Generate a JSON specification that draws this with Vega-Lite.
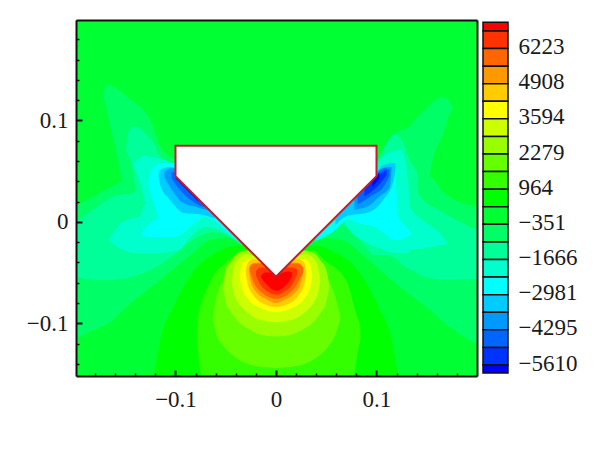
{"$schema":"https://vega.github.io/schema/vega-lite/v6.json","background":"white","padding":{"left":0,"top":20,"right":0,"bottom":0},"spacing":5,"config":{"view":{"stroke":null},"font":"Liberation Serif"},
"datasets":{"regions":[
{"g":"bg","c":11,"x":-0.2,"y":0.2,"y2":-0.155},{"g":"bg","c":11,"x":0.2,"y":0.2,"y2":-0.155},
{"g":"La","c":12,"x":-0.172,"y":0.127,"y2":0.125},{"g":"La","c":12,"x":-0.168,"y":0.135,"y2":0.108},{"g":"La","c":12,"x":-0.16,"y":0.132,"y2":0.073},{"g":"La","c":12,"x":-0.155,"y":0.129,"y2":0.049},{"g":"La","c":12,"x":-0.148,"y":0.123,"y2":-0.008},{"g":"La","c":12,"x":-0.125,"y":0.1,"y2":-0.008},{"g":"La","c":12,"x":-0.115,"y":0.074,"y2":-0.008},{"g":"La","c":12,"x":-0.1,"y":0.061,"y2":-0.008},{"g":"La","c":12,"x":-0.086,"y":0.046,"y2":-0.008},
{"g":"Lb","c":12,"x":-0.2,"y":0.015,"y2":-0.116},{"g":"Lb","c":12,"x":-0.182,"y":0.025,"y2":-0.107},{"g":"Lb","c":12,"x":-0.165,"y":0.034,"y2":-0.099},{"g":"Lb","c":12,"x":-0.157,"y":0.038,"y2":-0.092},{"g":"Lb","c":12,"x":-0.152,"y":0.04,"y2":-0.087},{"g":"Lb","c":12,"x":-0.115,"y":0.04,"y2":-0.057},{"g":"Lb","c":12,"x":-0.083,"y":0.032,"y2":-0.031},{"g":"Lb","c":12,"x":-0.066,"y":0.017,"y2":-0.018},{"g":"Lb","c":12,"x":-0.048,"y":-0.003,"y2":-0.016},{"g":"Lb","c":12,"x":-0.032,"y":-0.018,"y2":-0.025},
{"g":"Ra","c":12,"x":0.099,"y":0.056,"y2":-0.008},{"g":"Ra","c":12,"x":0.108,"y":0.069,"y2":-0.008},{"g":"Ra","c":12,"x":0.115,"y":0.085,"y2":-0.008},{"g":"Ra","c":12,"x":0.123,"y":0.09,"y2":-0.008},{"g":"Ra","c":12,"x":0.133,"y":0.094,"y2":-0.008},{"g":"Ra","c":12,"x":0.14,"y":0.103,"y2":-0.008},{"g":"Ra","c":12,"x":0.153,"y":0.115,"y2":0.046},{"g":"Ra","c":12,"x":0.156,"y":0.118,"y2":0.061},{"g":"Ra","c":12,"x":0.166,"y":0.123,"y2":0.086},{"g":"Ra","c":12,"x":0.173,"y":0.118,"y2":0.107},{"g":"Ra","c":12,"x":0.176,"y":0.113,"y2":0.112},
{"g":"Rb","c":12,"x":0.032,"y":-0.018,"y2":-0.025},{"g":"Rb","c":12,"x":0.048,"y":-0.004,"y2":-0.016},{"g":"Rb","c":12,"x":0.066,"y":0.017,"y2":-0.018},{"g":"Rb","c":12,"x":0.084,"y":0.032,"y2":-0.031},{"g":"Rb","c":12,"x":0.118,"y":0.039,"y2":-0.06},{"g":"Rb","c":12,"x":0.153,"y":0.044,"y2":-0.087},{"g":"Rb","c":12,"x":0.167,"y":0.029,"y2":-0.099},{"g":"Rb","c":12,"x":0.2,"y":0.015,"y2":-0.121},
{"g":"Lc","c":13,"x":-0.149,"y":0.071,"y2":0.069},{"g":"Lc","c":13,"x":-0.147,"y":0.088,"y2":0.066},{"g":"Lc","c":13,"x":-0.143,"y":0.093,"y2":0.053},{"g":"Lc","c":13,"x":-0.138,"y":0.094,"y2":0.027},{"g":"Lc","c":13,"x":-0.13,"y":0.087,"y2":0.027},{"g":"Lc","c":13,"x":-0.122,"y":0.078,"y2":0.022},{"g":"Lc","c":13,"x":-0.115,"y":0.064,"y2":0.022},{"g":"Lc","c":13,"x":-0.105,"y":0.053,"y2":0.022},{"g":"Lc","c":13,"x":-0.098,"y":0.046,"y2":0.022},
{"g":"Ld","c":13,"x":-0.2,"y":-0.001,"y2":-0.054},{"g":"Ld","c":13,"x":-0.182,"y":0.012,"y2":-0.057},{"g":"Ld","c":13,"x":-0.162,"y":0.025,"y2":-0.057},{"g":"Ld","c":13,"x":-0.142,"y":0.029,"y2":-0.054},{"g":"Ld","c":13,"x":-0.128,"y":0.038,"y2":-0.049},{"g":"Ld","c":13,"x":-0.099,"y":0.043,"y2":-0.031},{"g":"Ld","c":13,"x":-0.083,"y":0.036,"y2":-0.018},{"g":"Ld","c":13,"x":-0.061,"y":0.01,"y2":-0.01},{"g":"Ld","c":13,"x":-0.034,"y":-0.016,"y2":-0.023},
{"g":"Le2","c":14,"x":-0.142,"y":0.058,"y2":0.056},{"g":"Le2","c":14,"x":-0.136,"y":0.063,"y2":0.041},{"g":"Le2","c":14,"x":-0.131,"y":0.065,"y2":0.022},{"g":"Le2","c":14,"x":-0.125,"y":0.064,"y2":-0.008},{"g":"Le2","c":14,"x":-0.11,"y":0.061,"y2":-0.008},{"g":"Le2","c":14,"x":-0.1,"y":0.056,"y2":-0.008},{"g":"Le2","c":14,"x":-0.091,"y":0.046,"y2":-0.008},
{"g":"Le","c":14,"x":-0.167,"y":-0.018,"y2":-0.018},{"g":"Le","c":14,"x":-0.156,"y":-0.003,"y2":-0.026},{"g":"Le","c":14,"x":-0.145,"y":0.003,"y2":-0.03},{"g":"Le","c":14,"x":-0.136,"y":0.005,"y2":-0.031},{"g":"Le","c":14,"x":-0.131,"y":0.017,"y2":-0.031},{"g":"Le","c":14,"x":-0.119,"y":0.022,"y2":-0.031},{"g":"Le","c":14,"x":-0.097,"y":0.032,"y2":-0.028},{"g":"Le","c":14,"x":-0.085,"y":0.027,"y2":-0.015},{"g":"Le","c":14,"x":-0.07,"y":0.012,"y2":-0.005},{"g":"Le","c":14,"x":-0.051,"y":0,"y2":-0.011},{"g":"Le","c":14,"x":-0.036,"y":-0.013,"y2":-0.021},
{"g":"Lf2","c":15,"x":-0.127,"y":0.041,"y2":0.036},{"g":"Lf2","c":15,"x":-0.124,"y":0.051,"y2":0.025},{"g":"Lf2","c":15,"x":-0.121,"y":0.054,"y2":0.017},{"g":"Lf2","c":15,"x":-0.117,"y":0.057,"y2":0.005},{"g":"Lf2","c":15,"x":-0.112,"y":0.058,"y2":-0.003},{"g":"Lf2","c":15,"x":-0.1,"y":0.058,"y2":-0.003},
{"g":"Lf","c":15,"x":-0.134,"y":-0.011,"y2":-0.013},{"g":"Lf","c":15,"x":-0.125,"y":-0.001,"y2":-0.015},{"g":"Lf","c":15,"x":-0.117,"y":0.005,"y2":-0.015},{"g":"Lf","c":15,"x":-0.112,"y":0.017,"y2":-0.015},{"g":"Lf","c":15,"x":-0.1,"y":0.053,"y2":-0.015},{"g":"Lf","c":15,"x":-0.08,"y":0.032,"y2":-0.001},{"g":"Lf","c":15,"x":-0.07,"y":0.017,"y2":0.005},{"g":"Lf","c":15,"x":-0.059,"y":0.01,"y2":-0.001},{"g":"Lf","c":15,"x":-0.046,"y":-0.004,"y2":-0.012},{"g":"Lf","c":15,"x":-0.038,"y":-0.015,"y2":-0.019},
{"g":"Lg","c":16,"x":-0.117,"y":0.047,"y2":0.045},{"g":"Lg","c":16,"x":-0.115,"y":0.051,"y2":0.036},{"g":"Lg","c":16,"x":-0.106,"y":0.054,"y2":0.022},{"g":"Lg","c":16,"x":-0.1,"y":0.053,"y2":0.015},{"g":"Lg","c":16,"x":-0.093,"y":0.046,"y2":0.009},{"g":"Lg","c":16,"x":-0.073,"y":0.022,"y2":0.007},{"g":"Lg","c":16,"x":-0.061,"y":0.01,"y2":0.003},
{"g":"Lh","c":17,"x":-0.111,"y":0.049,"y2":0.044},{"g":"Lh","c":17,"x":-0.104,"y":0.053,"y2":0.032},{"g":"Lh","c":17,"x":-0.093,"y":0.046,"y2":0.019},{"g":"Lh","c":17,"x":-0.077,"y":0.027,"y2":0.014},{"g":"Lh","c":17,"x":-0.066,"y":0.016,"y2":0.011},
{"g":"Li","c":18,"x":-0.104,"y":0.049,"y2":0.043},{"g":"Li","c":18,"x":-0.097,"y":0.049,"y2":0.033},{"g":"Li","c":18,"x":-0.083,"y":0.032,"y2":0.02},{"g":"Li","c":18,"x":-0.071,"y":0.02,"y2":0.014},
{"g":"Lj","c":19,"x":-0.1,"y":0.049,"y2":0.043},{"g":"Lj","c":19,"x":-0.09,"y":0.039,"y2":0.033},{"g":"Lj","c":19,"x":-0.077,"y":0.027,"y2":0.019},
{"g":"Lk","c":20,"x":-0.099,"y":0.046,"y2":0.042},{"g":"Lk","c":20,"x":-0.086,"y":0.036,"y2":0.029},{"g":"Lk","c":20,"x":-0.076,"y":0.027,"y2":0.02},
{"g":"Rc","c":13,"x":0.061,"y":0.007,"y2":0.002},{"g":"Rc","c":13,"x":0.083,"y":0.027,"y2":-0.018},{"g":"Rc","c":13,"x":0.099,"y":0.056,"y2":-0.033},{"g":"Rc","c":13,"x":0.108,"y":0.074,"y2":-0.033},{"g":"Rc","c":13,"x":0.117,"y":0.086,"y2":-0.035},{"g":"Rc","c":13,"x":0.125,"y":0.081,"y2":-0.042},{"g":"Rc","c":13,"x":0.133,"y":0.061,"y2":-0.047},{"g":"Rc","c":13,"x":0.14,"y":0.048,"y2":-0.05},{"g":"Rc","c":13,"x":0.142,"y":0.027,"y2":-0.052},{"g":"Rc","c":13,"x":0.167,"y":0.009,"y2":-0.057},{"g":"Rc","c":13,"x":0.2,"y":-0.008,"y2":-0.056},
{"g":"Rd","c":14,"x":0.064,"y":0.01,"y2":0.007},{"g":"Rd","c":14,"x":0.071,"y":0.017,"y2":-0.005},{"g":"Rd","c":14,"x":0.091,"y":0.036,"y2":-0.021},{"g":"Rd","c":14,"x":0.103,"y":0.061,"y2":-0.026},{"g":"Rd","c":14,"x":0.113,"y":0.068,"y2":-0.03},{"g":"Rd","c":14,"x":0.125,"y":0.071,"y2":-0.031},{"g":"Rd","c":14,"x":0.13,"y":0.051,"y2":-0.031},{"g":"Rd","c":14,"x":0.132,"y":0.034,"y2":-0.03},{"g":"Rd","c":14,"x":0.133,"y":0.015,"y2":-0.028},{"g":"Rd","c":14,"x":0.148,"y":0,"y2":-0.026},{"g":"Rd","c":14,"x":0.163,"y":-0.011,"y2":-0.023},{"g":"Rd","c":14,"x":0.17,"y":-0.02,"y2":-0.022},
{"g":"Re","c":15,"x":0.04,"y":-0.016,"y2":-0.019},{"g":"Re","c":15,"x":0.046,"y":-0.01,"y2":-0.016},{"g":"Re","c":15,"x":0.059,"y":0.002,"y2":-0.008},{"g":"Re","c":15,"x":0.071,"y":0.017,"y2":0.002},{"g":"Re","c":15,"x":0.084,"y":0.032,"y2":-0.002},{"g":"Re","c":15,"x":0.098,"y":0.051,"y2":-0.005},{"g":"Re","c":15,"x":0.11,"y":0.056,"y2":-0.013},{"g":"Re","c":15,"x":0.117,"y":0.057,"y2":-0.018},{"g":"Re","c":15,"x":0.119,"y":0.041,"y2":-0.018},{"g":"Re","c":15,"x":0.122,"y":0.005,"y2":-0.018},{"g":"Re","c":15,"x":0.128,"y":-0.003,"y2":-0.016},{"g":"Re","c":15,"x":0.135,"y":-0.011,"y2":-0.013},
{"g":"Rf","c":16,"x":0.059,"y":0.002,"y2":-0.003},{"g":"Rf","c":16,"x":0.071,"y":0.017,"y2":0.006},{"g":"Rf","c":16,"x":0.091,"y":0.036,"y2":0.009},{"g":"Rf","c":16,"x":0.107,"y":0.056,"y2":0.022},{"g":"Rf","c":16,"x":0.117,"y":0.058,"y2":0.041},{"g":"Rf","c":16,"x":0.119,"y":0.057,"y2":0.053},
{"g":"Rg","c":17,"x":0.078,"y":0.022,"y2":0.012},{"g":"Rg","c":17,"x":0.091,"y":0.036,"y2":0.015},{"g":"Rg","c":17,"x":0.103,"y":0.051,"y2":0.025},{"g":"Rg","c":17,"x":0.113,"y":0.054,"y2":0.034},{"g":"Rg","c":17,"x":0.115,"y":0.054,"y2":0.051},
{"g":"Rh","c":18,"x":0.081,"y":0.025,"y2":0.017},{"g":"Rh","c":18,"x":0.094,"y":0.038,"y2":0.025},{"g":"Rh","c":18,"x":0.108,"y":0.053,"y2":0.036},{"g":"Rh","c":18,"x":0.113,"y":0.051,"y2":0.046},
{"g":"Ri","c":19,"x":0.088,"y":0.032,"y2":0.025},{"g":"Ri","c":19,"x":0.1,"y":0.044,"y2":0.034},{"g":"Ri","c":19,"x":0.11,"y":0.051,"y2":0.046},
{"g":"Rj","c":20,"x":0.096,"y":0.039,"y2":0.034},{"g":"Rj","c":20,"x":0.103,"y":0.049,"y2":0.043},
{"g":"m10","c":10,"x":-0.122,"y":-0.155,"y2":-0.155},{"g":"m10","c":10,"x":-0.115,"y":-0.116,"y2":-0.155},{"g":"m10","c":10,"x":-0.102,"y":-0.084,"y2":-0.155},{"g":"m10","c":10,"x":-0.083,"y":-0.05,"y2":-0.155},{"g":"m10","c":10,"x":-0.059,"y":-0.03,"y2":-0.155},{"g":"m10","c":10,"x":-0.044,"y":-0.024,"y2":-0.155},{"g":"m10","c":10,"x":-0.031,"y":-0.023,"y2":-0.155},{"g":"m10","c":10,"x":0,"y":-0.037,"y2":-0.155},{"g":"m10","c":10,"x":0.031,"y":-0.023,"y2":-0.155},{"g":"m10","c":10,"x":0.044,"y":-0.024,"y2":-0.155},{"g":"m10","c":10,"x":0.059,"y":-0.03,"y2":-0.155},{"g":"m10","c":10,"x":0.083,"y":-0.05,"y2":-0.155},{"g":"m10","c":10,"x":0.102,"y":-0.084,"y2":-0.155},{"g":"m10","c":10,"x":0.115,"y":-0.116,"y2":-0.155},{"g":"m10","c":10,"x":0.122,"y":-0.155,"y2":-0.155},
{"g":"m9","c":9,"x":-0.079,"y":-0.109,"y2":-0.116},{"g":"m9","c":9,"x":-0.078,"y":-0.097,"y2":-0.125},{"g":"m9","c":9,"x":-0.073,"y":-0.077,"y2":-0.155},{"g":"m9","c":9,"x":-0.066,"y":-0.06,"y2":-0.155},{"g":"m9","c":9,"x":-0.046,"y":-0.037,"y2":-0.155},{"g":"m9","c":9,"x":-0.033,"y":-0.028,"y2":-0.155},{"g":"m9","c":9,"x":0,"y":-0.037,"y2":-0.155},{"g":"m9","c":9,"x":0.037,"y":-0.028,"y2":-0.155},{"g":"m9","c":9,"x":0.047,"y":-0.037,"y2":-0.155},{"g":"m9","c":9,"x":0.071,"y":-0.06,"y2":-0.155},{"g":"m9","c":9,"x":0.076,"y":-0.077,"y2":-0.155},{"g":"m9","c":9,"x":0.082,"y":-0.097,"y2":-0.125},{"g":"m9","c":9,"x":0.084,"y":-0.103,"y2":-0.116},
{"g":"m8","c":8,"x":-0.063,"y":-0.094,"y2":-0.096},{"g":"m8","c":8,"x":-0.06,"y":-0.077,"y2":-0.109},{"g":"m8","c":8,"x":-0.052,"y":-0.057,"y2":-0.123},{"g":"m8","c":8,"x":-0.044,"y":-0.042,"y2":-0.131},{"g":"m8","c":8,"x":-0.031,"y":-0.03,"y2":-0.139},{"g":"m8","c":8,"x":-0.016,"y":-0.028,"y2":-0.143},{"g":"m8","c":8,"x":0,"y":-0.033,"y2":-0.144},{"g":"m8","c":8,"x":0.016,"y":-0.028,"y2":-0.143},{"g":"m8","c":8,"x":0.031,"y":-0.03,"y2":-0.139},{"g":"m8","c":8,"x":0.044,"y":-0.042,"y2":-0.131},{"g":"m8","c":8,"x":0.052,"y":-0.057,"y2":-0.123},{"g":"m8","c":8,"x":0.06,"y":-0.077,"y2":-0.109},{"g":"m8","c":8,"x":0.064,"y":-0.094,"y2":-0.096},
{"g":"m7","c":7,"x":-0.053,"y":-0.062,"y2":-0.064},{"g":"m7","c":7,"x":-0.05,"y":-0.047,"y2":-0.079},{"g":"m7","c":7,"x":-0.045,"y":-0.039,"y2":-0.089},{"g":"m7","c":7,"x":-0.038,"y":-0.031,"y2":-0.098},{"g":"m7","c":7,"x":-0.025,"y":-0.028,"y2":-0.107},{"g":"m7","c":7,"x":-0.012,"y":-0.028,"y2":-0.112},{"g":"m7","c":7,"x":0,"y":-0.035,"y2":-0.113},{"g":"m7","c":7,"x":0.012,"y":-0.028,"y2":-0.112},{"g":"m7","c":7,"x":0.025,"y":-0.028,"y2":-0.107},{"g":"m7","c":7,"x":0.038,"y":-0.031,"y2":-0.098},{"g":"m7","c":7,"x":0.045,"y":-0.039,"y2":-0.089},{"g":"m7","c":7,"x":0.05,"y":-0.047,"y2":-0.079},{"g":"m7","c":7,"x":0.053,"y":-0.062,"y2":-0.064},
{"g":"m6","c":6,"x":-0.044,"y":-0.056,"y2":-0.059},{"g":"m6","c":6,"x":-0.042,"y":-0.045,"y2":-0.07},{"g":"m6","c":6,"x":-0.038,"y":-0.037,"y2":-0.079},{"g":"m6","c":6,"x":-0.03,"y":-0.032,"y2":-0.088},{"g":"m6","c":6,"x":-0.018,"y":-0.035,"y2":-0.096},{"g":"m6","c":6,"x":0,"y":-0.04,"y2":-0.099},{"g":"m6","c":6,"x":0.018,"y":-0.035,"y2":-0.096},{"g":"m6","c":6,"x":0.03,"y":-0.032,"y2":-0.088},{"g":"m6","c":6,"x":0.038,"y":-0.037,"y2":-0.079},{"g":"m6","c":6,"x":0.042,"y":-0.045,"y2":-0.07},{"g":"m6","c":6,"x":0.044,"y":-0.056,"y2":-0.059},
{"g":"m5","c":5,"x":-0.036,"y":-0.053,"y2":-0.055},{"g":"m5","c":5,"x":-0.034,"y":-0.042,"y2":-0.065},{"g":"m5","c":5,"x":-0.028,"y":-0.037,"y2":-0.076},{"g":"m5","c":5,"x":-0.018,"y":-0.039,"y2":-0.084},{"g":"m5","c":5,"x":0,"y":-0.043,"y2":-0.089},{"g":"m5","c":5,"x":0.018,"y":-0.039,"y2":-0.084},{"g":"m5","c":5,"x":0.028,"y":-0.037,"y2":-0.076},{"g":"m5","c":5,"x":0.034,"y":-0.042,"y2":-0.065},{"g":"m5","c":5,"x":0.036,"y":-0.053,"y2":-0.055},
{"g":"m4","c":4,"x":-0.03,"y":-0.049,"y2":-0.052},{"g":"m4","c":4,"x":-0.028,"y":-0.04,"y2":-0.062},{"g":"m4","c":4,"x":-0.022,"y":-0.037,"y2":-0.073},{"g":"m4","c":4,"x":-0.012,"y":-0.04,"y2":-0.081},{"g":"m4","c":4,"x":0,"y":-0.046,"y2":-0.084},{"g":"m4","c":4,"x":0.012,"y":-0.04,"y2":-0.081},{"g":"m4","c":4,"x":0.022,"y":-0.037,"y2":-0.073},{"g":"m4","c":4,"x":0.028,"y":-0.04,"y2":-0.062},{"g":"m4","c":4,"x":0.03,"y":-0.049,"y2":-0.052},
{"g":"m3","c":3,"x":-0.027,"y":-0.046,"y2":-0.05},{"g":"m3","c":3,"x":-0.025,"y":-0.042,"y2":-0.059},{"g":"m3","c":3,"x":-0.018,"y":-0.04,"y2":-0.071},{"g":"m3","c":3,"x":-0.01,"y":-0.043,"y2":-0.076},{"g":"m3","c":3,"x":0,"y":-0.047,"y2":-0.08},{"g":"m3","c":3,"x":0.01,"y":-0.043,"y2":-0.076},{"g":"m3","c":3,"x":0.018,"y":-0.04,"y2":-0.071},{"g":"m3","c":3,"x":0.025,"y":-0.042,"y2":-0.059},{"g":"m3","c":3,"x":0.027,"y":-0.046,"y2":-0.05},
{"g":"m2","c":2,"x":-0.026,"y":-0.045,"y2":-0.049},{"g":"m2","c":2,"x":-0.022,"y":-0.041,"y2":-0.06},{"g":"m2","c":2,"x":-0.014,"y":-0.041,"y2":-0.07},{"g":"m2","c":2,"x":0,"y":-0.047,"y2":-0.076},{"g":"m2","c":2,"x":0.014,"y":-0.041,"y2":-0.07},{"g":"m2","c":2,"x":0.022,"y":-0.041,"y2":-0.06},{"g":"m2","c":2,"x":0.027,"y":-0.045,"y2":-0.05},
{"g":"m1","c":1,"x":-0.02,"y":-0.049,"y2":-0.053},{"g":"m1","c":1,"x":-0.016,"y":-0.045,"y2":-0.061},{"g":"m1","c":1,"x":-0.008,"y":-0.045,"y2":-0.069},{"g":"m1","c":1,"x":0,"y":-0.049,"y2":-0.072},{"g":"m1","c":1,"x":0.008,"y":-0.045,"y2":-0.069},{"g":"m1","c":1,"x":0.016,"y":-0.045,"y2":-0.062},{"g":"m1","c":1,"x":0.021,"y":-0.047,"y2":-0.052},
{"g":"m0","c":0,"x":-0.015,"y":-0.054,"y2":-0.055},{"g":"m0","c":0,"x":-0.011,"y":-0.05,"y2":-0.06},{"g":"m0","c":0,"x":-0.006,"y":-0.05,"y2":-0.065},{"g":"m0","c":0,"x":0,"y":-0.053,"y2":-0.068},{"g":"m0","c":0,"x":0.007,"y":-0.05,"y2":-0.065},{"g":"m0","c":0,"x":0.012,"y":-0.049,"y2":-0.06},{"g":"m0","c":0,"x":0.016,"y":-0.05,"y2":-0.054}
],
"shape":[{"o":0,"x":-0.1,"y":0.075,"y2":0.045},{"o":1,"x":0,"y":0.075,"y2":-0.054},{"o":2,"x":0.1,"y":0.075,"y2":0.045}],
"outline":[{"o":0,"x":-0.1,"y":0.045},{"o":1,"x":-0.1,"y":0.075},{"o":2,"x":0.1,"y":0.075},{"o":3,"x":0.1,"y":0.045},{"o":4,"x":0,"y":-0.054},{"o":5,"x":-0.1,"y":0.045}],
"bar":[{"c":0,"lo":6880,"hi":7205},{"c":1,"lo":6223,"hi":6880},{"c":2,"lo":5566,"hi":6223},{"c":3,"lo":4908,"hi":5566},{"c":4,"lo":4251,"hi":4908},{"c":5,"lo":3594,"hi":4251},{"c":6,"lo":2936,"hi":3594},{"c":7,"lo":2279,"hi":2936},{"c":8,"lo":1622,"hi":2279},{"c":9,"lo":964,"hi":1622},{"c":10,"lo":306,"hi":964},{"c":11,"lo":-351,"hi":306},{"c":12,"lo":-1009,"hi":-351},{"c":13,"lo":-1666,"hi":-1009},{"c":14,"lo":-2323,"hi":-1666},{"c":15,"lo":-2981,"hi":-2323},{"c":16,"lo":-3638,"hi":-2981},{"c":17,"lo":-4295,"hi":-3638},{"c":18,"lo":-4953,"hi":-4295},{"c":19,"lo":-5610,"hi":-4953},{"c":20,"lo":-5909,"hi":-5610}]},
"hconcat":[
{"width":401,"height":356,"resolve":{"axis":{"x":"independent","y":"independent"}},"layer":[
{"data":{"name":"regions"},"mark":{"type":"area","interpolate":"monotone","clip":true,"orient":"vertical"},"encoding":{
"x":{"field":"x","type":"quantitative","scale":{"domain":[-0.199,0.2],"nice":false,"zero":false},"axis":{"title":null,"grid":false,"values":[-0.1,0,0.1],"labelExpr":"datum.value === 0 ? '0' : format(datum.value,'.1f')","labelFont":"Liberation Serif","labelFontSize":23,"labelColor":"#1a1a1a","labelPadding":18,"tickSize":-6,"tickWidth":2,"tickColor":"#111","domainWidth":2,"domainColor":"#111","orient":"bottom","zindex":1,"labelFlush":false,"labelOverlap":false,"minExtent":40,"maxExtent":40}},
"y":{"field":"y","type":"quantitative","scale":{"domain":[-0.152,0.199],"nice":false,"zero":false},"stack":null,"axis":{"title":null,"grid":false,"values":[-0.1,0,0.1],"labelExpr":"datum.value === 0 ? '0' : format(datum.value,'.1f')","labelFont":"Liberation Serif","labelFontSize":23,"labelColor":"#1a1a1a","labelPadding":14,"tickSize":-6,"tickWidth":2,"tickColor":"#111","domainWidth":2,"domainColor":"#111","orient":"left","zindex":1,"labelFlush":false,"minExtent":76,"maxExtent":76}},
"y2":{"field":"y2"},"detail":{"field":"g"},
"color":{"field":"c","type":"nominal","legend":null,"scale":{"domain":[0,1,2,3,4,5,6,7,8,9,10,11,12,13,14,15,16,17,18,19,20],"range":["#ff0000","#ff3300","#ff6600","#ff9900","#ffcc00","#ffff00","#ccff00","#99ff00","#66ff00","#33ff00","#00ff00","#00ff33","#00ff66","#00ff99","#00ffcc","#00ffff","#00ccff","#0099ff","#0066ff","#0033ff","#0000ff"]}}}},
{"data":{"name":"shape"},"mark":{"type":"area","fill":"white","interpolate":"linear","orient":"vertical"},"encoding":{
"x":{"field":"x","type":"quantitative","axis":{"title":null,"grid":false,"domain":false,"labels":false,"orient":"bottom","tickSize":-3,"tickWidth":1.5,"tickColor":"#111","values":[-0.18,-0.16,-0.14,-0.12,-0.08,-0.06,-0.04,-0.02,0.02,0.04,0.06,0.08,0.12,0.14,0.16,0.18],"zindex":1}},
"y":{"field":"y","type":"quantitative","stack":null,"axis":{"title":null,"grid":false,"domain":false,"labels":false,"orient":"left","tickSize":-3,"tickWidth":1.5,"tickColor":"#111","values":[-0.14,-0.12,-0.08,-0.06,-0.04,-0.02,0.02,0.04,0.06,0.08,0.12,0.14,0.16,0.18],"zindex":1}},
"y2":{"field":"y2"}}},
{"data":{"name":"outline"},"mark":{"type":"line","color":"#bf1e2e","strokeWidth":2,"strokeJoin":"miter"},"encoding":{
"x":{"field":"x","type":"quantitative","axis":{"title":null,"grid":false,"labels":false,"ticks":false,"orient":"top","domainWidth":2,"domainColor":"#111","zindex":1}},
"y":{"field":"y","type":"quantitative","axis":{"title":null,"grid":false,"labels":false,"ticks":false,"orient":"right","domainWidth":2,"domainColor":"#111","zindex":1}},
"order":{"field":"o","type":"quantitative"}}}
]},
{"width":25,"height":356,"data":{"name":"bar"},"mark":{"type":"rect","stroke":"#111","strokeWidth":1.5},"encoding":{
"y":{"field":"lo","type":"quantitative","scale":{"domain":[-6021,7291],"nice":false,"zero":false},"axis":{"title":null,"grid":false,"domain":false,"ticks":false,"orient":"right","values":[6223,4908,3594,2279,964,-351,-1666,-2981,-4295,-5610],"format":"d","labelFont":"Liberation Serif","labelFontSize":23,"labelColor":"#1a1a1a","labelPadding":10,"labelOffset":-2,"labelFlush":false,"labelOverlap":false}},
"y2":{"field":"hi"},
"color":{"field":"c","type":"nominal","legend":null,"scale":{"domain":[0,1,2,3,4,5,6,7,8,9,10,11,12,13,14,15,16,17,18,19,20],"range":["#ff0000","#ff3300","#ff6600","#ff9900","#ffcc00","#ffff00","#ccff00","#99ff00","#66ff00","#33ff00","#00ff00","#00ff33","#00ff66","#00ff99","#00ffcc","#00ffff","#00ccff","#0099ff","#0066ff","#0033ff","#0000ff"]}}}}
],"resolve":{"scale":{"color":"independent"}}}
